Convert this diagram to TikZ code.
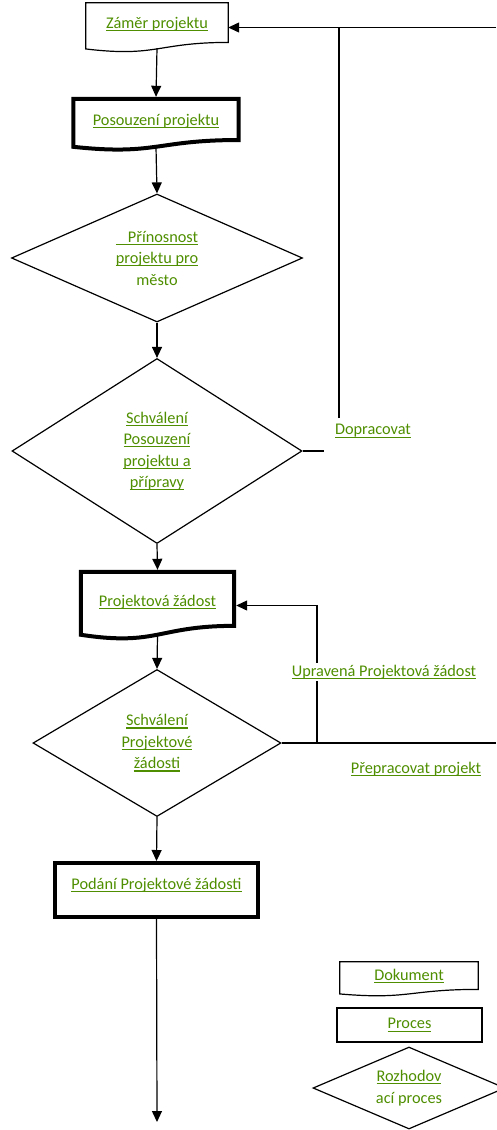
\documentclass[tikz,border=0pt]{standalone}
\usepackage{fontspec}
\setmainfont{Carlito}
\usetikzlibrary{arrows.meta, calc, shapes.geometric}

\definecolor{linkgreen}{RGB}{78,142,0}
\newcommand{\ulink}[1]{\setbox0\hbox{#1}\rlap{\rule[-2.8pt]{\wd0}{1.1pt}}\box0}

\tikzset{
    flow/.style={line width=1.2pt},
    arrow/.style={flow, -{Triangle[width=10pt,length=11pt]}},
    docnode/.style={inner sep=0pt, text depth=9pt},
    procbox/.style={draw, inner sep=0pt, line width=1.2pt},
    decision/.style={diamond, draw, line width=1.2pt, inner sep=0pt, align=center}
}

\begin{document}
\begin{tikzpicture}[x=1pt, y=-1pt, font=\fontsize{16.3}{21.5}\selectfont, text=linkgreen]
    \useasboundingbox (0,0) rectangle (496,1130);

    % Main flow
    \node[docnode, minimum width=142pt, minimum height=49pt] (zamer) at (157,27.5) {\ulink{Záměr projektu}};
    \node[docnode, minimum width=165pt, minimum height=51pt] (posouz) at (156,124.5) {\ulink{Posouzení projektu}};
    \node[decision, minimum width=291pt, minimum height=128pt, aspect=2.27] (prinos) at (157,258)
        {\ulink{\hspace{12pt}Přínosnost}\\ \ulink{projektu pro}\\ město};
    \node[decision, minimum width=290pt, minimum height=185pt, aspect=1.57] (schval) at (157,451)
        {\ulink{Schválení}\\ \ulink{Posouzení}\\ \ulink{projektu a}\\ \ulink{přípravy}};
    \node[docnode, minimum width=153pt, minimum height=67pt] (projz) at (157.5,605.5) {\ulink{Projektová žádost}};
    \node[decision, minimum width=248pt, minimum height=147pt, aspect=1.69] (schvpz) at (157,743)
        {\ulink{Schválení}\\ \ulink{Projektové}\\ \ulink{žádosti}};
    \node[procbox, line width=4pt, minimum width=203pt, minimum height=54pt, text depth=12pt] (podani) at (156.5,890)
        {\ulink{Podání Projektové žádosti}};

    % Legend
    \node[docnode, minimum width=138pt, minimum height=34pt] (legdok) at (409,979) {\ulink{Dokument}};
    \node[procbox, minimum width=145pt, minimum height=34pt] (legproc) at (409.5,1025) {\ulink{Proces}};
    \node[decision, minimum width=192pt, minimum height=82pt, aspect=2.34] (legroz) at (409,1088)
        {\ulink{Rozhodov}\\ ací proces};

    % Document outlines with wavy bottom
    \foreach \n/\w in {zamer/1.2pt, posouz/4pt, projz/4pt, legdok/1.2pt}
        \draw[line width=\w] (\n.north west) -- (\n.north east)
            -- ($(\n.north east)!0.802!(\n.south east)$)
            .. controls ($(\n.north)!0.802!(\n.south)$) and ($(\n.north)!1.1075!(\n.south)$)
            .. ($(\n.north west)!0.934!(\n.south west)$) -- cycle;

    % Free ends of the connectors
    \coordinate (dstub) at (324,451);
    \coordinate (dtop) at (339,418);
    \coordinate (edgeA) at (496,27.5);
    \coordinate (edgeB) at (496,743);
    \coordinate (uturn) at (317,743);
    \coordinate (tail) at (157,1122);

    % Connectors
    \draw[arrow] ([yshift=4pt]zamer.south) -- ([yshift=2pt]posouz.north);
    \draw[arrow] ([yshift=3pt]posouz.south) -- (prinos.north);
    \draw[arrow] (prinos.south) -- (schval.north);
    \draw[arrow] (schval.south) -- ([yshift=2pt]projz.north);
    \draw[arrow] ([yshift=4pt]projz.south) -- (schvpz.north);
    \draw[arrow] (schvpz.south) -- (podani.north);
    \draw[arrow] (podani.south) -- (tail);

    % Return branches
    \draw[flow] (schval.east) -- (dstub);
    \draw[flow] (dtop) -- (dtop |- zamer.east);
    \draw[arrow] (edgeA) -- (zamer.east);
    \draw[flow] (schvpz.east) -- (edgeB);
    \draw[arrow] (uturn) |- ([xshift=2pt]projz.east);

    % Labels
    \node (dopr) at (373,431) {\ulink{Dopracovat}};
    \node[fill=white, inner sep=1.5pt] (upr) at (384,672) {\ulink{Upravená Projektová žádost}};
    \node (preprac) at (416,769) {\ulink{Přepracovat projekt}};
\end{tikzpicture}
\end{document}
